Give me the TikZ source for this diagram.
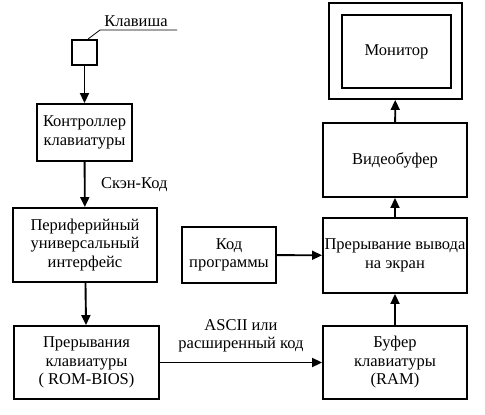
\documentclass[tikz,border=0pt]{standalone}
\usepackage{fontspec}
\setmainfont{Liberation Serif}
\newfontfamily\rusfont{Liberation Serif}
\usetikzlibrary{arrows.meta}
\usetikzlibrary{calc}

\tikzset{
    blok/.style={draw, line width=1.9pt, align=center, inner sep=0pt, font=\rusfont\fontsize{16.5}{18.5}\selectfont},
    strl/.style={-{Triangle[length=10pt,width=9pt]}, line width=1.9pt},
    tekst/.style={align=center, font=\rusfont\fontsize{16.5}{18.5}\selectfont}
}

\begin{document}
\begin{tikzpicture}[x=1pt,y=-1pt]
                \useasboundingbox (0,0) rectangle (485,415);
                \node[blok, minimum width=25pt, minimum height=25pt] (klav) at (84.5,52.5) {};
                \node[tekst] (klavt) at (136,21) {Клавиша};
                \coordinate (lom) at (100,30);
                \coordinate (kon) at (177,30);
                \node[blok, minimum width=95pt, minimum height=57pt] (kontr) at (84.5,132.5) {Контроллер\\клавиатуры};
                \node[blok, minimum width=144pt, minimum height=74pt] (perif) at (85,245) {Периферийный\\универсальный\\интерфейс};
                \node[blok, minimum width=145pt, minimum height=73pt] (prer) at (86.5,362.5) {Прерывания\\клавиатуры\\( ROM-BIOS)};
                \node[blok, minimum width=144pt, minimum height=73pt] (bufer) at (395,362.5) {Буфер\\клавиатуры\\(RAM)};
                \node[blok, minimum width=144pt, minimum height=75pt] (vyvod) at (395,255.5) {Прерывание вывода\\на экран};
                \node[blok, minimum width=94pt, minimum height=56pt] (kod) at (229,255) {Код\\программы};
                \node[blok, minimum width=144pt, minimum height=74pt] (video) at (395,160) {Видеобуфер};
                \node[blok, minimum width=133pt, minimum height=96pt] (monit) at (395.5,51) {};
                \node[blok, minimum width=109pt, minimum height=73pt] (ekran) at (396.5,51.5) {Монитор};
                \draw[line width=0.8pt] ($(klav.north)+(3.5,0)$) -- (lom) -- (kon);
                \draw[strl] (klav) -- (kontr);
                \draw[strl] (kontr) to node[tekst, right=12pt] (skan) {Скэн-Код} (perif);
                \draw[strl] (perif) -- (prer);
                \draw[strl] (prer) to node[tekst, above=6pt] (ascii) {ASCII или\\расширенный код} (bufer);
                \draw[strl] (kod) -- (vyvod);
                \draw[strl] (bufer) -- (vyvod);
                \draw[strl] (vyvod) -- (video);
                \draw[strl] (video) -- (monit);
            \end{tikzpicture}
\end{document}
